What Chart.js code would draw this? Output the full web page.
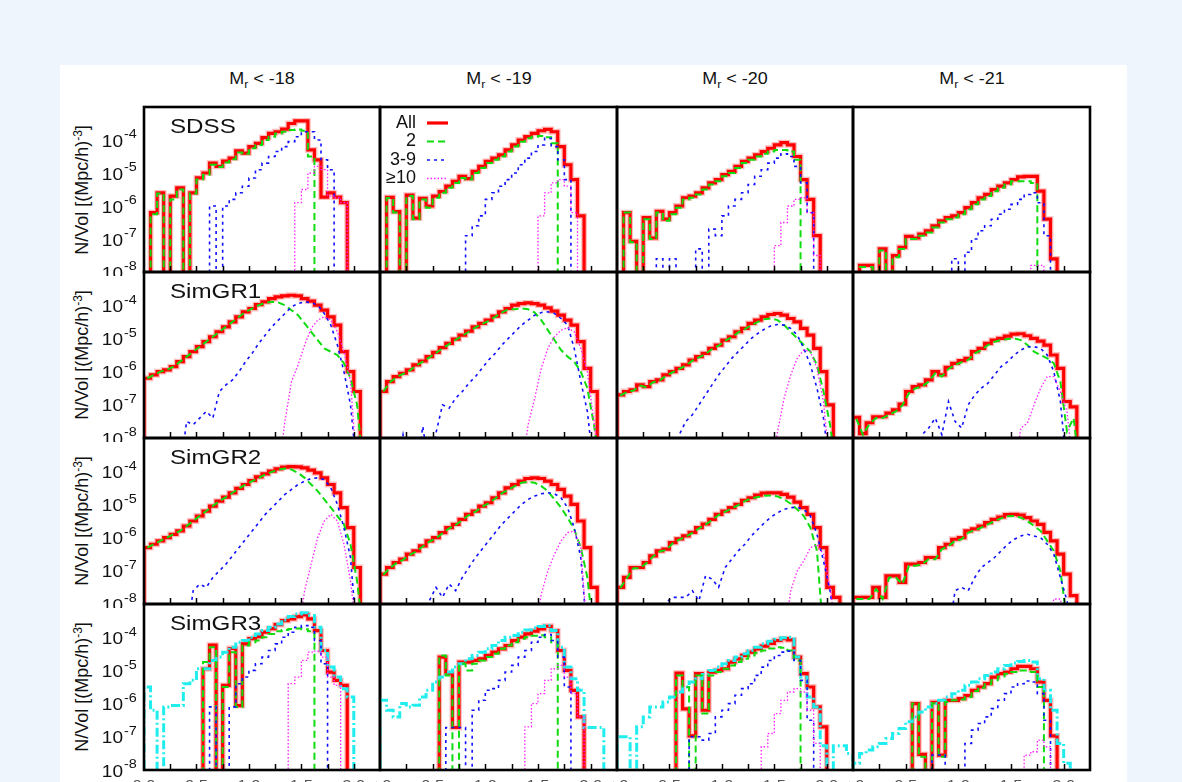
<!DOCTYPE html>
<html>
<head>
<meta charset="utf-8">
<script src="https://cdn.jsdelivr.net/npm/chart.js@4.4.0/dist/chart.umd.min.js"></script>
<style>
  body { margin: 0; width: 1182px; height: 782px; overflow: hidden; position: relative;
         background: #eef5fd; font-family: "Liberation Sans", Arial, sans-serif; color: #111; }
  #sheet { position: absolute; left: 60px; top: 65px; width: 1067px; height: 760px; background: #fff; }
  canvas { position: absolute; }
  .head { position: absolute; top: 68px; width: 236px; line-height: 22px; text-align: center;
          font-size: 16px; transform: scaleX(1.12); }
  .head sub { font-size: 11px; vertical-align: -4px; line-height: 0; }
  .ytitle { position: absolute; width: 190px; height: 22px; line-height: 22px; text-align: center;
            font-size: 18px; white-space: nowrap; transform: rotate(-90deg); }
  .ytitle sup { font-size: 12px; vertical-align: 6px; line-height: 0; }
</style>
</head>
<body>
<div id="sheet"></div>
<script>
// values are log10(N/Vol) per bin (36 bins per panel); E marks an empty bin
const E = -9;
const gap = n => Array(n).fill(E);

const magCuts = ['-18', '-19', '-20', '-21'];
const sampleNames = ['SDSS', 'SimGR1', 'SimGR2', 'SimGR3'];
const legendLabels = ['All', '2', '3-9', '\u226510'];
const yPowers = [-4, -5, -6, -7, -8];
const xTickLabels = ['0.0', '0.5', '1.0', '1.5', '2.0'];

// ---- SDSS ----
const sdss18All  = [E,-6.2,-5.6,E,-5.7,-5.45,E,-5.6,-5.15,-5.0,-4.7,-4.8,-4.64,-4.55,-4.33,-4.4,-4.2,-4.1,-3.93,-3.8,-3.75,-3.67,-3.5,-3.42,-3.42,-4.3,-4.6,-5.73,-5.6,-5.73,-5.9];
const sdss18Two  = [E,-6.25,-5.62,E,-5.8,-5.5,E,-5.62,-5.2,-5.05,-4.75,-4.82,-4.68,-4.58,-4.38,-4.42,-4.25,-4.15,-4.0,-3.9,-3.8,-3.75,-3.7,-3.68,-3.72,-4.5];
const sdss18Mid  = [...gap(10),-6.0,E,-6.0,-5.8,-5.6,-5.4,-5.15,-4.9,-4.7,-4.5,-4.35,-4.2,-4.05,-3.9,-3.75,-3.75,-4.0,-4.6,-4.9];
const sdss18Rich = [...gap(23),-5.9,-5.5,-5.0,-4.8,-4.9,-5.7,-5.75,-5.9];

const sdss19All  = [E,-5.74,-6.17,E,-5.67,-6.37,-5.77,-6.0,-5.7,-5.56,-5.4,-5.25,-5.1,-5.17,-4.95,-4.8,-4.65,-4.55,-4.45,-4.3,-4.15,-4.0,-3.9,-3.8,-3.72,-3.68,-3.75,-4.2,-4.75,-5.2,-6.3];
const sdss19Two  = [E,-5.76,-6.2,E,-5.7,-6.4,-5.8,-6.05,-5.75,-5.6,-5.45,-5.3,-5.15,-5.2,-5.0,-4.85,-4.7,-4.6,-4.5,-4.35,-4.2,-4.05,-3.95,-3.9,-3.88,-3.92,-4.1];
const sdss19Mid  = [...gap(13),-6.9,-6.6,-6.3,-5.8,-5.6,-5.4,-5.2,-5.0,-4.75,-4.55,-4.35,-4.15,-3.95,-4.2,-4.6,-5.2];
const sdss19Rich = [...gap(23),-8,-6.3,-5.6,-5.3,-5.2,-5.4,-6.2];

const sdss20All  = [E,-6.2,-7.07,E,-6.35,-6.97,-6.16,-6.4,-6.2,-6.0,-5.75,-5.7,-5.6,-5.45,-5.3,-5.2,-5.05,-4.95,-4.8,-4.65,-4.55,-4.45,-4.35,-4.25,-4.15,-4.08,-4.15,-4.5,-5.2,-5.8,-6.9];
const sdss20Two  = [E,-6.2,-7.1,E,-6.4,-7.0,-6.2,-6.45,-6.25,-6.05,-5.8,-5.75,-5.65,-5.5,-5.35,-5.25,-5.1,-5.0,-4.85,-4.7,-4.6,-4.5,-4.42,-4.35,-4.3,-4.3,-4.35,-4.6];
const sdss20Mid  = [...gap(6),-7.6,E,-7.6,E,E,E,-7.3,E,-6.7,-6.9,-6.3,-6.0,-5.8,-5.6,-5.35,-5.1,-4.9,-4.7,-4.55,-4.42,-4.5,-4.8,-5.3,-6.2];
const sdss20Rich = [...gap(24),-7.2,-6.5,-6.0,-5.8,-5.75,-6.2,-7.5];

const sdss21All  = [E,-7.8,-7.8,E,-7.3,E,-7.5,-7.25,-6.92,-6.97,-6.85,-6.75,-6.6,-6.45,-6.35,-6.3,-6.2,-6.05,-5.9,-5.75,-5.65,-5.5,-5.4,-5.3,-5.2,-5.12,-5.1,-5.1,-5.55,-6.4,-7.6];
const sdss21Two  = [E,-7.85,-7.85,E,-7.35,E,-7.55,-7.3,-7.0,-7.0,-6.9,-6.8,-6.65,-6.5,-6.4,-6.35,-6.25,-6.1,-5.95,-5.8,-5.7,-5.55,-5.45,-5.35,-5.25,-5.25,-5.25,-5.3];
const sdss21Mid  = [...gap(15),-7.6,E,-7.4,-7.0,-6.75,-6.6,-6.4,-6.25,-6.1,-5.95,-5.8,-5.65,-5.6,-5.9,-6.9];
const sdss21Rich = [...gap(27),-7.8,-7.8];

// ---- SimGR1 ----
const gr1_18All  = [-6.2,-6.1,-6.0,-5.95,-5.85,-5.7,-5.55,-5.4,-5.25,-5.1,-4.95,-4.8,-4.65,-4.5,-4.35,-4.2,-4.1,-3.98,-3.9,-3.8,-3.75,-3.72,-3.7,-3.72,-3.8,-3.88,-4.0,-4.15,-4.35,-4.6,-5.4,-6.0,-6.6];
const gr1_18Two  = [-6.2,-6.1,-6.0,-5.95,-5.85,-5.7,-5.55,-5.4,-5.25,-5.1,-4.95,-4.8,-4.65,-4.5,-4.35,-4.2,-4.1,-4.0,-3.93,-3.9,-3.92,-4.0,-4.15,-4.3,-4.55,-4.8,-5.05,-5.3,-5.4,-5.5,-5.75,-6.2,-7.0];
const gr1_18Mid  = [...gap(6),-7.5,-7.6,-7.4,-7.2,-7.4,-6.6,-6.4,-6.25,-6.0,-5.7,-5.45,-5.15,-4.9,-4.65,-4.45,-4.25,-4.05,-3.95,-3.9,-3.92,-4.0,-4.25,-4.6,-5.2,-6.0,-7.0];
const gr1_18Rich = [...gap(21),-7.5,-6.3,-5.8,-5.2,-4.7,-4.45,-4.35,-4.45,-4.8,-5.4,-6.3];

const gr1_19All  = [-6.6,-6.3,-6.15,-6.05,-5.95,-5.8,-5.68,-5.55,-5.42,-5.28,-5.15,-5.02,-4.9,-4.78,-4.65,-4.55,-4.45,-4.33,-4.2,-4.1,-4.0,-3.95,-3.93,-3.95,-4.0,-4.08,-4.18,-4.3,-4.45,-4.6,-5.1,-5.9,-6.6];
const gr1_19Two  = [-6.6,-6.32,-6.17,-6.07,-5.97,-5.82,-5.7,-5.57,-5.44,-5.3,-5.17,-5.04,-4.92,-4.8,-4.67,-4.57,-4.47,-4.35,-4.22,-4.12,-4.12,-4.1,-4.12,-4.22,-4.45,-4.75,-5.05,-5.35,-5.55,-5.7,-6.0,-6.5,-7.6];
const gr1_19Mid  = [...gap(3),-7.9,E,E,-7.65,E,-7.85,-7.0,-7.1,-6.8,-6.6,-6.35,-6.15,-5.9,-5.65,-5.45,-5.2,-5.0,-4.8,-4.6,-4.45,-4.3,-4.22,-4.2,-4.25,-4.4,-4.6,-5.3,-6.3,-7.2];
const gr1_19Rich = [...gap(22),-7.6,-6.8,-5.9,-5.3,-4.95,-4.75,-4.68,-4.8,-5.3,-6.0,-7.5];

const gr1_20All  = [-6.7,-6.6,-6.55,-6.4,-6.45,-6.3,-6.25,-6.1,-6.0,-5.9,-5.8,-5.65,-5.55,-5.45,-5.3,-5.2,-5.05,-4.95,-4.8,-4.7,-4.55,-4.45,-4.35,-4.28,-4.25,-4.3,-4.4,-4.5,-4.7,-4.9,-5.3,-6.0,-7.0];
const gr1_20Two  = [-6.72,-6.62,-6.57,-6.42,-6.47,-6.32,-6.27,-6.12,-6.02,-5.92,-5.82,-5.67,-5.57,-5.47,-5.32,-5.22,-5.07,-4.97,-4.82,-4.72,-4.6,-4.5,-4.42,-4.4,-4.45,-4.6,-4.8,-5.0,-5.2,-5.4,-5.8,-6.6,-7.6];
const gr1_20Mid  = [...gap(9),-7.9,-7.5,-7.3,-7.0,-6.7,-6.4,-6.1,-5.85,-5.6,-5.4,-5.2,-5.0,-4.85,-4.72,-4.62,-4.58,-4.6,-4.7,-4.9,-5.3,-5.8,-6.5,-7.4];
const gr1_20Rich = [...gap(24),-7.8,-6.8,-6.1,-5.6,-5.35,-5.4,-5.9,-6.9];

const gr1_21All  = [-7.38,-7.87,-7.54,-7.36,-7.36,-7.25,-7.15,-6.98,-6.6,-6.45,-6.4,-6.25,-6.0,-6.1,-5.87,-5.75,-5.67,-5.6,-5.4,-5.3,-5.15,-5.05,-5.0,-4.93,-4.87,-4.86,-4.92,-5.0,-5.08,-5.2,-5.5,-5.9,-6.9,-7.06];
const gr1_21Two  = [-7.42,-7.9,-7.58,-7.4,-7.4,-7.3,-7.2,-7.02,-6.65,-6.5,-6.45,-6.3,-6.05,-6.15,-5.92,-5.8,-5.72,-5.65,-5.45,-5.35,-5.2,-5.1,-5.05,-5.02,-5.0,-5.05,-5.2,-5.4,-5.5,-5.6,-5.75,-6.3,-7.8,-7.4];
const gr1_21Mid  = [...gap(10),-7.9,-7.7,-7.4,-7.9,-6.9,-7.5,-7.7,-7.0,-6.7,-6.5,-6.35,-6.1,-5.85,-5.7,-5.5,-5.35,-5.25,-5.25,-5.3,-5.5,-6.0,-6.9];
const gr1_21Rich = [...gap(25),-7.7,-7.55,-7.0,-6.5,-6.15,-6.15,-6.6,-7.2];

// ---- SimGR2 ----
const gr2_18All  = [-6.3,-6.2,-6.1,-6.0,-5.9,-5.8,-5.65,-5.5,-5.35,-5.2,-5.05,-4.9,-4.78,-4.65,-4.52,-4.4,-4.28,-4.17,-4.08,-4.0,-3.93,-3.88,-3.86,-3.87,-3.9,-3.97,-4.05,-4.2,-4.4,-4.65,-5.1,-5.7,-6.9];
const gr2_18Two  = [-6.3,-6.2,-6.1,-6.0,-5.9,-5.8,-5.65,-5.5,-5.35,-5.2,-5.05,-4.9,-4.78,-4.65,-4.52,-4.4,-4.3,-4.2,-4.1,-4.02,-3.95,-3.92,-3.95,-4.05,-4.2,-4.4,-4.6,-4.85,-5.1,-5.35,-5.6,-6.2,-7.3];
const gr2_18Mid  = [...gap(7),-7.6,-7.4,-7.5,-7.2,-7.0,-6.8,-6.55,-6.3,-6.05,-5.8,-5.55,-5.3,-5.1,-4.9,-4.7,-4.55,-4.4,-4.3,-4.22,-4.2,-4.25,-4.5,-5.0,-5.7,-6.6];
const gr2_18Rich = [...gap(24),-7.6,-6.8,-6.0,-5.5,-5.3,-5.5,-6.2,-7.3];

const gr2_19All  = [-7.1,-6.9,-6.75,-6.65,-6.5,-6.4,-6.25,-6.1,-6.0,-5.85,-5.7,-5.6,-5.45,-5.3,-5.2,-5.05,-4.95,-4.8,-4.65,-4.5,-4.4,-4.3,-4.22,-4.2,-4.22,-4.3,-4.4,-4.55,-4.75,-5.0,-5.5,-6.3,-7.5];
const gr2_19Two  = [-7.12,-6.92,-6.77,-6.67,-6.52,-6.42,-6.27,-6.12,-6.02,-5.87,-5.72,-5.62,-5.47,-5.32,-5.22,-5.07,-4.97,-4.82,-4.67,-4.55,-4.45,-4.35,-4.32,-4.35,-4.45,-4.6,-4.85,-5.1,-5.4,-5.75,-6.3,-7.2];
const gr2_19Mid  = [...gap(7),-7.9,-7.5,-7.8,-7.4,-7.6,-7.2,-6.9,-6.6,-6.35,-6.1,-5.85,-5.6,-5.4,-5.2,-5.0,-4.85,-4.75,-4.68,-4.65,-4.68,-4.8,-5.1,-5.7,-6.6];
const gr2_19Rich = [...gap(24),-7.7,-7.0,-6.5,-6.1,-5.85,-5.8,-6.3];

const gr2_20All  = [-7.5,-7.2,-6.9,-6.9,-6.75,-6.55,-6.4,-6.35,-6.15,-6.04,-5.95,-5.84,-5.7,-5.59,-5.45,-5.3,-5.2,-5.1,-5.0,-4.88,-4.8,-4.72,-4.66,-4.65,-4.65,-4.7,-4.78,-4.93,-5.1,-5.3,-5.7,-6.3,-7.5,-7.8];
const gr2_20Two  = [-7.52,-7.22,-6.92,-6.92,-6.77,-6.57,-6.42,-6.37,-6.17,-6.06,-5.97,-5.86,-5.72,-5.61,-5.47,-5.32,-5.22,-5.12,-5.02,-4.9,-4.82,-4.78,-4.74,-4.73,-4.76,-4.85,-4.98,-5.15,-5.35,-5.7,-6.4];
const gr2_20Mid  = [...gap(7),-7.95,-7.8,-7.8,-7.8,-7.6,-7.9,-7.15,-7.25,-7.5,-6.9,-6.65,-6.4,-6.2,-5.95,-5.75,-5.55,-5.38,-5.25,-5.15,-5.1,-5.08,-5.15,-5.35,-5.9,-6.7,-7.6];
const gr2_20Rich = [...gap(26),-7.6,-7.0,-6.7,-6.3,-6.22,-6.5,-7.5];

const gr2_21All  = [-7.8,-7.8,-7.8,-7.5,-7.8,-7.15,-7.15,-7.35,-6.8,-6.8,-6.75,-6.6,-6.6,-6.3,-6.2,-6.05,-6.0,-5.8,-5.74,-5.65,-5.55,-5.45,-5.38,-5.31,-5.3,-5.32,-5.4,-5.5,-5.6,-5.84,-6.1,-6.5,-7.1,-7.75];
const gr2_21Two  = [-7.85,-7.85,-7.85,-7.55,-7.85,-7.2,-7.2,-7.4,-6.85,-6.85,-6.8,-6.65,-6.65,-6.35,-6.25,-6.1,-6.05,-5.85,-5.78,-5.7,-5.6,-5.5,-5.42,-5.36,-5.35,-5.4,-5.5,-5.65,-5.8,-6.1,-6.4,-7.0,-8.5];
const gr2_21Mid  = [...gap(15),-7.6,-7.5,-7.6,-7.2,-6.9,-6.75,-6.6,-6.4,-6.2,-6.05,-5.95,-5.9,-5.95,-6.0,-6.2,-6.5,-7.2,-7.9];
const gr2_21Rich = [...gap(30),-7.85,-7.85];

// ---- SimGR3 ----
const gr3_18All  = [...gap(9),-4.95,-4.24,E,-5.45,-4.34,-6.06,-4.2,-4.04,-3.98,-3.85,-3.74,-3.62,-3.5,-3.45,-3.38,-3.33,-3.45,-3.8,-4.4,-5.05,-5.3,-5.45];
const gr3_18Two  = [...gap(9),-4.75,-4.3,E,-5.5,-4.45,-6.1,-4.25,-4.15,-4.1,-4.0,-3.9,-3.82,-3.78,-3.75,-3.74,-3.76,-3.82];
const gr3_18Mid  = [...gap(10),-6.1,E,E,-6.1,-5.4,-5.2,-5.0,-4.8,-4.6,-4.4,-4.2,-4.0,-3.85,-3.7,-3.65,-3.7,-4.1,-4.8];
const gr3_18Rich = [...gap(22),-5.4,-5.2,-4.7,-4.45,-4.42,-4.6,-5.2,-5.45];
const gr3_18Cyan = [-5.5,-6.2,E,-6.1,-6.06,-6.06,-5.4,-5.3,-4.95,-4.95,-4.7,-4.6,-4.45,-4.3,-4.15,-4.1,-4.0,-3.9,-3.8,-3.7,-3.6,-3.48,-3.38,-3.3,-3.26,-3.35,-3.7,-4.4,-4.9,-5.2,-5.55,-5.8];

const gr3_19All  = [...gap(9),-4.6,-5.08,-6.72,-4.75,-4.75,-4.7,-4.65,-4.55,-4.45,-4.35,-4.25,-4.1,-4.0,-3.9,-3.82,-3.75,-3.67,-3.8,-4.4,-5.0,-5.6,-6.4];
const gr3_19Two  = [...gap(9),-4.55,-5.15,E,-4.8,-5.0,-4.8,-4.7,-4.6,-4.5,-4.35,-4.25,-4.15,-4.05,-4.0,-3.96,-3.94,-4.0,-4.15];
const gr3_19Mid  = [...gap(10),-6.72,-6.72,-6.72,E,-6.2,-5.9,-5.6,-5.55,-5.3,-5.05,-4.85,-4.6,-4.4,-4.15,-4.0,-3.92,-4.1,-4.6,-5.5];
const gr3_19Rich = [...gap(22),-6.7,-6.0,-5.7,-5.3,-4.95,-4.85,-5.2,-5.7,-6.4];
const gr3_19Cyan = [-5.9,-6.2,-6.4,-6.0,-6.1,-6.05,-5.8,-5.6,-5.35,-5.2,-5.05,-4.9,-4.8,-4.65,-4.55,-4.45,-4.35,-4.25,-4.1,-4.0,-3.95,-3.85,-3.78,-3.72,-3.68,-3.65,-3.8,-4.3,-4.9,-5.25,-5.6,-6.72,-6.72,-6.72];

const gr3_20All  = [...gap(9),-5.08,-6.16,-6.97,-5.1,-6.2,-5.05,-5.0,-4.95,-4.75,-4.65,-4.55,-4.45,-4.35,-4.27,-4.19,-4.1,-4.04,-4.08,-4.6,-5.1,-5.5,-6.1,-6.7];
const gr3_20Two  = [...gap(9),-5.15,-5.5,E,-5.15,-6.3,-5.15,-5.05,-4.95,-4.85,-4.75,-4.65,-4.55,-4.47,-4.4,-4.34,-4.3,-4.32,-4.4,-4.7];
const gr3_20Mid  = [...gap(11),-7.0,-7.0,-7.1,-6.9,-6.4,-6.2,-6.0,-5.75,-5.55,-5.4,-5.15,-4.9,-4.7,-4.55,-4.45,-4.42,-4.7,-5.3,-6.5];
const gr3_20Rich = [...gap(22),-7.3,-6.9,-6.3,-5.9,-5.65,-5.55,-5.65,-6.2,-7.2];
const gr3_20Cyan = [-7.0,-7.0,E,-6.7,-6.4,-6.1,-6.1,-5.95,-5.8,-5.65,-5.5,-5.35,-5.25,-5.12,-5.0,-4.9,-4.8,-4.7,-4.6,-4.5,-4.4,-4.3,-4.2,-4.12,-4.06,-4.02,-4.0,-4.6,-5.2,-5.8,-6.1,-7.27,E,-7.27,-7.27,-7.5];

const gr3_21All  = [...gap(9),-6.0,-7.53,E,-5.96,-7.55,-5.9,-5.9,-5.85,-5.76,-5.6,-5.5,-5.4,-5.2,-5.1,-5.05,-4.95,-4.88,-4.88,-4.95,-5.35,-5.9,-6.97];
const gr3_21Two  = [...gap(9),-6.0,-7.6,E,-6.0,-7.6,-5.95,-5.9,-5.88,-5.8,-5.62,-5.52,-5.42,-5.3,-5.18,-5.1,-5.05,-5.0,-5.0,-5.05,-5.5];
const gr3_21Mid  = [...gap(12),-7.55,-7.55,E,E,E,-7.2,-6.8,-6.6,-6.4,-6.15,-5.9,-5.7,-5.5,-5.4,-5.32,-5.35,-5.7,-6.5];
const gr3_21Rich = [...gap(26),-7.55,-7.45,-7.1,-7.3];
const gr3_21Cyan = [-7.8,-7.5,-7.4,-7.3,-7.2,-7.05,-6.9,-6.75,-6.55,-6.4,-6.25,-6.1,-6.0,-5.9,-5.8,-5.7,-5.6,-5.45,-5.35,-5.25,-5.15,-5.05,-4.95,-4.85,-4.78,-4.73,-4.7,-4.75,-5.25,-5.6,-6.2,-7.2,-7.8];

// [row][col] -> [All, 2, 3-9, >=10]
const grid = [
  [[sdss18All, sdss18Two, sdss18Mid, sdss18Rich], [sdss19All, sdss19Two, sdss19Mid, sdss19Rich],
   [sdss20All, sdss20Two, sdss20Mid, sdss20Rich], [sdss21All, sdss21Two, sdss21Mid, sdss21Rich]],
  [[gr1_18All, gr1_18Two, gr1_18Mid, gr1_18Rich], [gr1_19All, gr1_19Two, gr1_19Mid, gr1_19Rich],
   [gr1_20All, gr1_20Two, gr1_20Mid, gr1_20Rich], [gr1_21All, gr1_21Two, gr1_21Mid, gr1_21Rich]],
  [[gr2_18All, gr2_18Two, gr2_18Mid, gr2_18Rich], [gr2_19All, gr2_19Two, gr2_19Mid, gr2_19Rich],
   [gr2_20All, gr2_20Two, gr2_20Mid, gr2_20Rich], [gr2_21All, gr2_21Two, gr2_21Mid, gr2_21Rich]],
  [[gr3_18All, gr3_18Two, gr3_18Mid, gr3_18Rich], [gr3_19All, gr3_19Two, gr3_19Mid, gr3_19Rich],
   [gr3_20All, gr3_20Two, gr3_20Mid, gr3_20Rich], [gr3_21All, gr3_21Two, gr3_21Mid, gr3_21Rich]],
];
const cyanRow = [gr3_18Cyan, gr3_19Cyan, gr3_20Cyan, gr3_21Cyan];

const NBIN = 36;
const colEdges = [144, 380, 617, 853, 1090];
const rowEdges = [107, 272, 438, 604, 770];
const FONT = '"Liberation Sans", Arial, sans-serif';

const styles = [
  { color: '#ff0000', width: 3.2, dash: [] },
  { color: '#10dd10', width: 2,   dash: [7, 4] },
  { color: '#1010ff', width: 1.6, dash: [3, 4] },
  { color: '#ff20ff', width: 1.3, dash: [1.5, 2] },
  { color: '#20eeee', width: 3,   dash: [9, 3, 2, 3] },
];

function stepData(vals) {
  const pts = [{ x: 0, y: 1e-9 }];
  vals.forEach((v, i) => pts.push({ x: i, y: Math.pow(10, v) }));
  pts.push({ x: vals.length, y: 1e-9 });
  return pts;
}
function lineData(vals) {
  const pts = vals.map((v, i) => ({ x: i + 0.5, y: Math.pow(10, v) }));
  pts.push({ x: vals.length + 0.5, y: 1e-9 });
  return pts;
}

function sText(ctx, s, x, y, align, sx) {
  ctx.save();
  ctx.translate(x, y);
  ctx.scale(sx, 1);
  ctx.textAlign = align;
  ctx.fillText(s, 0, 0);
  ctx.restore();
}

const panelDecor = {
  id: 'panelDecor',
  afterDatasetsDraw(chart, args, opts) {
    const { ctx, chartArea: a } = chart;
    const xs = chart.scales.x, ys = chart.scales.y;
    ctx.save();
    ctx.fillStyle = '#111';
    ctx.strokeStyle = '#000';
    // x tick marks
    ctx.lineWidth = 1.5;
    for (let k = 1; k < 9; k++) {
      const x = Math.round(xs.getPixelForValue(4 * k)) + 0.5;
      ctx.beginPath(); ctx.moveTo(x, a.bottom); ctx.lineTo(x, a.bottom - 6); ctx.stroke();
    }
    // frame
    ctx.lineWidth = 2.6;
    ctx.strokeRect(a.left, a.top, a.right - a.left, a.bottom - a.top);
    ctx.textBaseline = 'middle';
    if (opts.col === 0) {
      for (const p of yPowers) {
        const y = ys.getPixelForValue(Math.pow(10, p)) + 2;
        const xr = a.left - 21;
        ctx.font = '17px ' + FONT;
        sText(ctx, '10', xr, y, 'right', 1.12);
        ctx.font = '12px ' + FONT;
        sText(ctx, String(p), xr + 1, y - 7, 'left', 1.2);
      }
      ctx.font = '21px ' + FONT;
      sText(ctx, opts.name, a.left + 26, a.top + 20, 'left', 1.15);
    }
    if (opts.row === 3) {
      ctx.font = '15px ' + FONT;
      ctx.textBaseline = 'top';
      ctx.fillStyle = '#555';
      xTickLabels.forEach((t, j) => sText(ctx, t, xs.getPixelForValue(8 * j), a.bottom + 8, 'center', 1.1));
    }
    if (opts.legend) {
      const rows = [16, 34.5, 53, 71.5];
      ctx.font = '18px ' + FONT;
      ctx.textBaseline = 'middle';
      legendLabels.forEach((t, i) => {
        const y = a.top + rows[i];
        ctx.fillStyle = '#111';
        ctx.textAlign = 'right';
        ctx.fillText(t, a.left + 36, y);
        const s = styles[i];
        ctx.strokeStyle = s.color; ctx.lineWidth = s.width; ctx.setLineDash(s.dash);
        ctx.beginPath(); ctx.moveTo(a.left + 47, y); ctx.lineTo(a.left + 68, y); ctx.stroke();
      });
      ctx.setLineDash([]);
    }
    ctx.restore();
  }
};

function makeDataset(vals, si, stepped, halo) {
  const s = styles[si];
  return {
    data: stepped ? stepData(vals) : lineData(vals),
    borderColor: halo ? 'rgba(255,110,110,0.45)' : s.color,
    borderWidth: halo ? s.width + 2.6 : s.width,
    borderDash: s.dash,
    stepped: stepped ? 'before' : false,
    pointRadius: 0, tension: 0, fill: false, clip: 0,
  };
}

for (let c = 0; c < 4; c++) {
  const h = document.createElement('div');
  h.className = 'head';
  h.style.left = ((colEdges[c] + colEdges[c + 1]) / 2 - 118) + 'px';
  h.innerHTML = 'M<sub>r</sub> &lt; ' + magCuts[c];
  document.body.appendChild(h);
}
for (let r = 0; r < 4; r++) {
  const t = document.createElement('div');
  t.className = 'ytitle';
  t.style.left = (82 - 95) + 'px';
  t.style.top = ((rowEdges[r] + rowEdges[r + 1]) / 2 - 11) + 'px';
  t.innerHTML = 'N/Vol [(Mpc/h)<sup>-3</sup>]';
  document.body.appendChild(t);
}

for (let r = 0; r < 4; r++) {
  for (let c = 0; c < 4; c++) {
    const w = colEdges[c + 1] - colEdges[c];
    const hgt = rowEdges[r + 1] - rowEdges[r];
    const padL = c === 0 ? 70 : 4, padR = 4, padT = 4, padB = r === 3 ? 30 : 4;
    const cv = document.createElement('canvas');
    cv.width = w + padL + padR;
    cv.height = hgt + padT + padB;
    cv.style.left = (colEdges[c] - padL) + 'px';
    cv.style.top = (rowEdges[r] - padT) + 'px';
    document.body.appendChild(cv);

    const [all, two, mid, rich] = grid[r][c];
    const stepAll = r === 0 || r === 3;
    const datasets = [
      makeDataset(rich, 3, stepAll),
      makeDataset(mid, 2, stepAll),
      makeDataset(two, 1, stepAll),
    ];
    if (r === 3) datasets.push(makeDataset(cyanRow[c], 4, true));
    datasets.push(makeDataset(all, 0, true));
    datasets.push(makeDataset(all, 0, true, true));

    new Chart(cv, {
      type: 'line',
      data: { datasets },
      options: {
        responsive: false, animation: false, events: [], devicePixelRatio: 1,
        layout: { padding: { left: padL, right: padR, top: padT, bottom: padB } },
        scales: {
          x: { type: 'linear', min: 0, max: NBIN, display: false },
          y: { type: 'logarithmic', min: 1e-8, max: 1e-3, display: false },
        },
        plugins: {
          legend: { display: false }, tooltip: { enabled: false },
          panelDecor: { row: r, col: c, name: sampleNames[r], legend: r === 0 && c === 1 },
        },
      },
      plugins: [panelDecor],
    });
  }
}
</script>
</body>
</html>
